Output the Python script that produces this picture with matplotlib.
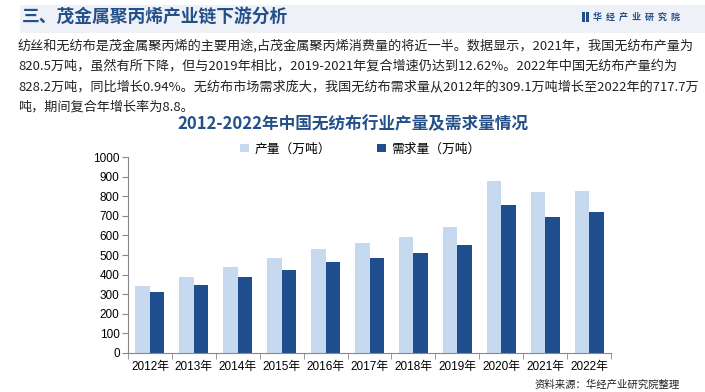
import matplotlib
matplotlib.use('Agg')
import matplotlib.pyplot as plt
from matplotlib.patches import Rectangle
import numpy as np

plt.rcParams['font.family'] = ['Noto Sans CJK SC', 'DejaVu Sans']

### Data
years = ['2012年', '2013年', '2014年', '2015年', '2016年', '2017年',
         '2018年', '2019年', '2020年', '2021年', '2022年']
production = [341, 387, 438, 485, 531, 561, 592, 643, 879, 820.5, 828.2]
demand = [309.1, 346, 387, 423, 464, 485, 510, 551, 756, 695, 717.7]
yticks = [0, 100, 200, 300, 400, 500, 600, 700, 800, 900, 1000]

heading = '三、茂金属聚丙烯产业链下游分析'
para = ['纺丝和无纺布是茂金属聚丙烯的主要用途,占茂金属聚丙烯消费量的将近一半。数据显示，2021年，我国无纺布产量为',
        '820.5万吨，虽然有所下降，但与2019年相比，2019-2021年复合增速仍达到12.62%。2022年中国无纺布产量约为',
        '828.2万吨，同比增长0.94%。无纺布市场需求庞大，我国无纺布需求量从2012年的309.1万吨增长至2022年的717.7万',
        '吨，期间复合年增长率为8.8。']
chart_title = '2012-2022年中国无纺布行业产量及需求量情况'
source = '资料来源：华经产业研究院整理'

c_light = '#c6d9ef'
c_dark = '#1f4e8f'
c_blue = '#245089'
num_font = ['Liberation Sans', 'Noto Sans CJK SC']

fig = plt.figure(figsize=(7.05, 3.92), dpi=100, facecolor='white')

# header band
fig.patches.append(Rectangle((20/705, 1-33/392), 685/705, 28/392, transform=fig.transFigure,
                             facecolor='#eef1f7', edgecolor='none', zorder=0))
fig.text(22/705, 1-18/392, heading, fontsize=12.8, fontweight='bold', color=c_blue,
         va='center', ha='left')
# logo
fig.patches.append(Rectangle((582/705, 1-22/392), 2.5/705, 10/392, transform=fig.transFigure,
                             facecolor=c_dark, edgecolor='none'))
fig.patches.append(Rectangle((586/705, 1-22/392), 2.5/705, 10/392, transform=fig.transFigure,
                             facecolor=c_dark, edgecolor='none'))
fig.text(593/705, 1-17/392, '  '.join('华经产业研究院'), fontsize=6.5, fontweight='bold',
         color=c_blue, va='center', ha='left')

# paragraph
for i, line in enumerate(para):
    fig.text(18/705, 1-(46+20.5*i)/392, line, fontsize=9.45, color='#222222', va='center', ha='left')

fig.text(353/705, 1-124/392, chart_title, fontsize=12, fontweight='bold', color=c_blue,
         va='center', ha='center')

### Chart
ax = fig.add_axes([128/705, 1-352.7/392, 483/705, 195.4/392])
x = np.arange(len(years))
w = 0.33
b1 = ax.bar(x - w/2, production, w, color=c_light, label='产量（万吨）')
b2 = ax.bar(x + w/2, demand, w, color=c_dark, label='需求量（万吨）')

ax.set_xlim(-0.5, len(years) - 0.5)
ax.set_ylim(0, 1000)
ax.set_yticks(yticks)
ax.set_yticklabels([str(v) for v in yticks], family=num_font, fontsize=8.5)
ax.set_xticks(x)
ax.set_xticklabels(years, family=num_font, fontsize=8.5)
ax.tick_params(axis='x', length=0, pad=6)
ax.set_xticks(np.arange(len(years) + 1) - 0.5, minor=True)
ax.tick_params(axis='x', which='minor', length=4, color='#888888')
ax.tick_params(axis='y', length=4, color='#888888', pad=2)
for s in ['top', 'right']:
    ax.spines[s].set_visible(False)
for s in ['left', 'bottom']:
    ax.spines[s].set_color('#888888')
    ax.spines[s].set_linewidth(0.8)

leg = fig.legend(handles=[b1, b2], loc='center', bbox_to_anchor=(360/705, 1-149/392), ncol=2,
                 frameon=False, fontsize=9.2, handlelength=0.7, handleheight=0.7,
                 columnspacing=3.6, handletextpad=0.4)

fig.text(680/705, 1-385/392, source, fontsize=7.5, color='#222222', va='center', ha='right')

fig.savefig('out.png', dpi=100)
